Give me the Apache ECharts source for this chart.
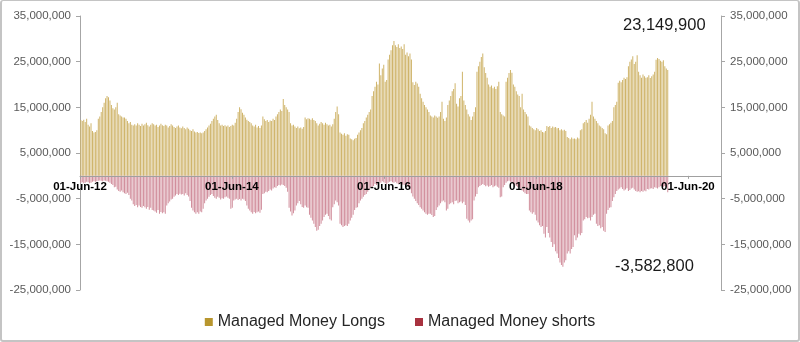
<!DOCTYPE html>
<html>
<head>
<meta charset="utf-8">
<script src="https://cdn.jsdelivr.net/npm/echarts@6/dist/echarts.min.js"></script>
<style>
html,body{margin:0;padding:0;background:#fff;}
#wrap{position:relative;width:800px;height:342px;}
#chart{position:absolute;left:0;top:0;width:800px;height:342px;}
#frame{position:absolute;left:0;top:0;width:800px;height:342px;box-sizing:border-box;border:2px solid #c4c4c4;border-top-width:1px;border-radius:3px;pointer-events:none;}
</style>
</head>
<body>
<div id="wrap"><div id="chart"></div><div id="frame"></div></div>
<script>
// Weekly data, first report 05-Jun-2012, values in millions
const firstReport = Date.UTC(2012, 5, 5);
const longsM = [
12.2,12.0,12.3,11.8,12.5,11.2,10.8,11.5,9.8,9.5,
9.6,10.0,12.5,13.0,14.0,15.0,16.0,17.0,17.5,17.2,
16.5,15.5,14.8,14.5,15.0,16.0,13.5,13.2,13.0,12.8,
12.8,12.5,12.0,11.5,11.8,11.2,11.0,11.3,11.0,11.5,
11.2,10.9,11.4,11.0,11.3,11.6,11.1,10.8,11.2,11.5,
11.3,11.0,11.2,10.7,11.0,11.4,11.1,10.9,11.2,11.0,
10.6,10.9,11.3,11.0,10.7,10.5,10.8,11.0,10.6,10.4,
10.8,10.5,10.2,10.6,10.3,10.0,9.8,10.2,9.7,9.5,
9.6,9.4,9.5,9.3,9.5,9.8,10.2,10.6,11.0,11.4,
12.0,12.5,13.0,13.4,12.2,11.5,11.0,11.2,10.9,11.1,
10.8,11.0,10.7,10.9,11.2,11.0,11.6,12.5,14.0,15.0,
14.6,13.8,13.4,12.8,12.3,12.0,11.8,11.5,11.0,10.8,
11.2,10.6,10.9,10.5,11.0,13.0,12.4,12.0,12.2,11.8,
12.1,12.0,12.5,12.2,13.0,13.5,14.0,14.5,14.2,16.8,
15.5,15.0,14.5,14.0,11.5,11.0,11.2,10.8,10.5,10.8,
10.4,10.6,10.3,10.7,12.8,12.4,12.6,12.5,12.3,12.6,
12.2,12.0,11.5,11.0,11.4,11.8,11.5,11.2,11.6,11.3,
11.0,11.2,10.8,11.3,12.5,14.0,15.2,13.5,9.5,9.2,
9.0,9.3,8.8,9.1,9.0,8.2,8.0,7.8,8.1,8.3,
9.0,9.5,10.0,10.5,11.5,12.0,12.8,13.4,14.0,14.5,
17.5,18.5,19.5,20.6,20.0,24.6,22.0,23.5,24.3,20.6,
21.0,25.5,26.5,27.5,28.6,29.5,28.6,28.2,28.8,28.0,
28.3,27.8,28.8,26.5,27.0,26.2,26.8,25.5,20.5,19.9,
20.6,20.2,19.5,18.0,17.0,16.2,15.5,15.0,14.5,14.0,
13.2,13.0,12.8,13.2,13.0,12.7,13.0,14.0,16.2,12.5,
12.0,12.8,15.5,16.5,17.5,18.5,19.0,20.3,15.8,15.2,
17.0,17.5,22.8,16.5,15.5,14.5,13.5,13.0,12.2,13.0,
14.0,15.0,22.8,24.0,25.0,26.0,26.8,23.8,22.5,21.5,
20.0,19.5,19.8,19.2,19.5,19.0,19.6,20.6,14.0,13.5,
13.2,13.0,20.6,21.5,22.5,23.2,22.6,20.0,19.5,18.5,
17.8,17.5,15.0,18.0,14.5,14.0,13.5,13.0,11.0,10.8,
10.5,10.2,10.0,10.5,10.2,9.8,10.0,9.6,9.5,9.8,
10.9,10.7,10.9,10.5,10.8,10.6,10.7,10.4,10.5,10.0,
10.2,9.9,10.1,9.8,8.5,8.3,8.0,8.4,8.1,8.2,
8.0,8.4,8.2,10.0,10.2,11.5,11.8,12.2,11.6,12.5,
13.4,16.2,13.0,12.5,12.0,11.5,11.0,10.8,10.5,10.2,
9.3,9.1,11.0,11.3,11.6,12.0,15.0,15.5,16.2,20.4,
20.8,20.5,21.0,21.5,21.2,21.6,24.0,25.0,25.5,26.2,
24.5,25.0,26.4,22.8,22.0,21.5,22.2,21.8,21.5,21.6,
22.0,21.4,21.8,22.2,22.8,25.4,25.8,25.6,25.2,25.0,
25.3,24.0,23.5,23.1499
];
const shortsM = [
1.5,1.4,1.6,1.5,1.3,1.4,1.6,1.5,1.3,1.2,
1.3,1.2,1.1,1.0,1.1,1.2,1.0,1.1,1.2,1.3,
1.5,1.8,2.0,2.5,2.4,3.0,3.3,3.5,3.2,3.6,
3.8,4.0,3.7,4.2,5.0,5.4,6.2,6.6,6.4,6.9,
6.5,6.8,7.0,6.6,6.9,7.2,6.8,7.4,7.0,7.5,
7.6,7.8,8.1,7.5,8.3,7.9,8.2,8.0,8.3,6.5,
6.0,5.6,5.2,5.0,4.6,4.3,4.0,4.2,3.9,4.1,
4.0,4.3,3.8,4.2,4.5,5.5,7.0,7.6,8.0,8.3,
8.0,8.3,7.8,8.0,7.2,6.0,5.4,5.0,4.6,4.2,
4.0,4.4,4.8,5.0,4.6,4.8,5.2,4.9,5.0,4.7,
4.5,4.8,5.0,7.2,7.0,5.4,5.2,5.0,5.3,5.1,
5.4,5.0,5.2,5.5,6.5,7.2,7.6,8.0,8.3,7.9,
8.2,8.0,7.8,8.1,7.4,4.0,3.8,3.5,3.6,3.3,
3.0,3.2,2.8,2.5,2.6,2.2,2.0,2.1,1.9,2.0,
2.2,2.6,3.5,7.0,7.8,8.7,8.2,7.6,6.5,6.0,
5.5,6.2,6.8,7.0,6.5,6.9,7.0,8.5,9.2,9.8,
10.5,11.2,12.0,11.8,11.0,10.5,9.8,9.0,8.5,8.3,
8.8,9.5,9.8,6.9,6.2,5.4,5.8,6.5,10.5,10.8,
11.2,11.0,10.8,11.0,10.5,9.8,9.2,8.5,7.5,7.0,
6.9,6.0,5.4,5.0,4.6,4.2,4.0,3.5,3.0,2.5,
2.5,2.2,1.8,2.0,1.6,1.3,1.5,1.2,1.4,1.6,
1.8,1.5,1.3,1.2,1.4,1.5,1.3,1.6,1.8,1.5,
1.7,1.9,2.0,1.8,2.2,2.5,3.0,3.8,4.5,5.0,
5.5,6.0,6.4,6.9,7.2,7.6,8.0,8.3,8.5,8.3,
8.3,8.6,9.0,8.8,7.5,6.9,6.5,6.0,5.6,5.4,
5.8,7.6,7.2,6.2,6.0,5.8,6.2,5.5,5.4,6.0,
5.8,5.6,6.0,5.7,6.4,9.4,9.8,10.2,9.8,9.5,
5.4,4.5,4.0,2.5,2.2,2.0,1.8,2.0,2.3,2.1,
2.4,2.2,2.0,2.5,2.3,2.1,2.4,2.6,4.7,4.5,
2.5,2.0,1.5,1.2,1.1,1.3,1.5,1.8,2.0,2.2,
2.5,2.4,2.8,3.2,3.5,3.8,4.0,4.0,7.6,8.0,
8.3,8.0,8.5,9.8,10.2,10.8,11.2,11.0,12.7,13.5,
11.2,12.5,13.5,14.5,15.6,15.0,16.5,17.0,18.0,19.0,
19.5,19.9,19.0,18.5,17.0,16.5,17.0,16.0,15.6,13.0,
14.1,13.5,12.7,13.0,12.5,9.8,9.5,9.0,9.3,9.2,
9.8,9.0,8.5,8.3,10.5,11.0,10.8,11.5,11.2,12.0,
12.3,8.3,7.5,7.0,6.9,5.5,4.7,4.0,3.3,3.0,
2.8,2.5,2.9,3.2,3.0,2.7,3.3,3.1,2.8,2.6,
3.0,3.3,3.5,3.4,3.6,3.3,3.5,3.2,3.4,2.9,
3.0,2.8,2.7,2.9,2.5,2.6,2.8,2.5,2.3,2.2,
2.4,2.2,2.5,3.5828
];
const yTicks = [-25000000, -15000000, -5000000, 5000000, 15000000, 25000000, 35000000];
const xTicks = [Date.UTC(2012,5,1), Date.UTC(2014,5,1), Date.UTC(2016,5,1), Date.UTC(2018,5,1), Date.UTC(2020,5,1)];
const xMin = Date.UTC(2012,5,1);
const xMax = Date.UTC(2020,10,7);
const seriesNames = ['Managed Money Longs', 'Managed Money shorts'];
const lastLong = 23149900;
const lastShort = -3582800;

const WEEK = 7 * 86400000;
const longData = longsM.map((v, i) => [firstReport + i * WEEK, Math.round(v * 1e6)]);
const shortData = shortsM.map((v, i) => [firstReport + i * WEEK, -Math.round(v * 1e6)]);
const MONTHS = ['Jan','Feb','Mar','Apr','May','Jun','Jul','Aug','Sep','Oct','Nov','Dec'];
function fmtDate(v) {
  const d = new Date(v);
  const dd = String(d.getUTCDate()).padStart(2, '0');
  return dd + '-' + MONTHS[d.getUTCMonth()] + '-' + String(d.getUTCFullYear()).slice(2);
}
function fmtNum(v) {
  const s = String(Math.abs(Math.round(v))).replace(/\B(?=(\d{3})+(?!\d))/g, ',');
  return (v < 0 ? '-' : '') + s;
}
const FONT = '"Liberation Sans", Arial, sans-serif';
const GRID = { left: 80, right: 79, top: 16, bottom: 52, containLabel: false };
const yAxisCommon = {
  type: 'value', min: -25000000, max: 35000000,
  splitLine: { show: false },
  axisLine: { show: true, lineStyle: { color: '#a6a6a6', width: 1 } },
  axisTick: { show: true, length: 4, lineStyle: { color: '#a6a6a6' }, customValues: yTicks },
  axisLabel: { customValues: yTicks, formatter: fmtNum, color: '#595959', fontSize: 11.5, fontFamily: FONT, margin: 9 }
};
const chart = echarts.init(document.getElementById('chart'), null, { renderer: 'canvas' });
chart.setOption({
  animation: false,
  backgroundColor: '#ffffff',
  grid: GRID,
  legend: {
    top: 309, left: 'center', itemWidth: 8, itemHeight: 8, itemGap: 30, icon: 'rect',
    textStyle: { fontSize: 16, color: '#262626', fontFamily: FONT },
    data: [
      { name: seriesNames[0], itemStyle: { color: '#b8962e' } },
      { name: seriesNames[1], itemStyle: { color: '#a8323f' } }
    ]
  },
  xAxis: {
    type: 'value', min: xMin, max: xMax, position: 'bottom', offset: 0, z: 10,
    splitLine: { show: false },
    axisLine: { onZero: false, lineStyle: { color: '#a0a0a0', width: 1 } },
    axisTick: { show: true, length: 3, lineStyle: { color: '#a0a0a0' }, customValues: xTicks },
    axisLabel: { customValues: xTicks, formatter: fmtDate, color: '#000', fontWeight: 'bold', fontSize: 11.5, fontFamily: FONT, margin: 5, hideOverlap: false, showMinLabel: true, showMaxLabel: true }
  },
  yAxis: [
    Object.assign({}, yAxisCommon, { position: 'left' }),
    Object.assign({}, yAxisCommon, { position: 'right' })
  ],
  series: [
    { name: seriesNames[0], type: 'bar', data: longData, barWidth: 1, barGap: '-100%', itemStyle: { color: '#cfb46a' }, yAxisIndex: 0 },
    { name: seriesNames[1], type: 'bar', data: shortData, barWidth: 1, barGap: '-100%', itemStyle: { color: '#d18e9c' }, yAxisIndex: 0 }
  ],
  graphic: [
    { type: 'text', left: 623, top: 17, style: { text: fmtNum(lastLong), fontSize: 16.5, fill: '#1a1a1a', fontFamily: FONT } },
    { type: 'text', left: 615, top: 258, style: { text: fmtNum(lastShort), fontSize: 16.5, fill: '#1a1a1a', fontFamily: FONT } }
  ]
});
// Move the date axis (line, ticks, labels) up to the zero line of the value axis
const zeroY = chart.convertToPixel({ yAxisIndex: 0 }, 0);
const gridBottomY = chart.getHeight() - GRID.bottom;
chart.setOption({ xAxis: { offset: -(gridBottomY - zeroY) } });
</script>
</body>
</html>
